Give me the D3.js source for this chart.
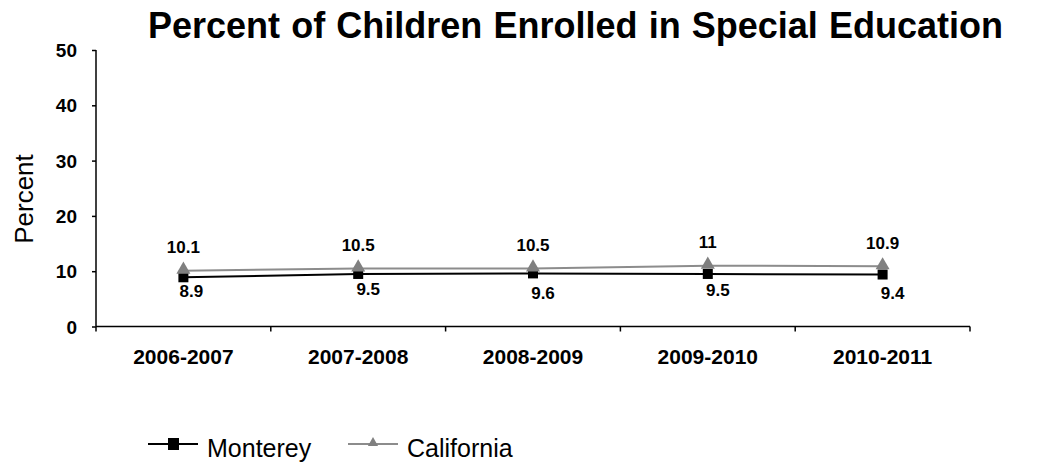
<!DOCTYPE html>
<html>
<head>
<meta charset="utf-8">
<script src="https://cdn.jsdelivr.net/npm/d3@7"></script>
<style>
  html, body { margin: 0; padding: 0; background: #fff; }
  svg { display: block; font-family: "Liberation Sans", Arial, sans-serif; }
</style>
</head>
<body>
<svg id="chart" width="1039" height="465"></svg>
<script>
// School years on the x axis
const years = ["2006-2007", "2007-2008", "2008-2009", "2009-2010", "2010-2011"];
// Percent of children enrolled in special education
const monterey = [8.9, 9.5, 9.6, 9.5, 9.4];
const california = [10.1, 10.5, 10.5, 11, 10.9];
// Y axis ticks
const yTicks = [0, 10, 20, 30, 40, 50];

const svg = d3.select("#chart");
const plotLeft = 96, plotRight = 970, plotTop = 50, plotBottom = 326.5;

const x = d3.scaleBand().domain(years).range([plotLeft, plotRight]);
const y = d3.scaleLinear().domain([0, 50]).range([plotBottom, plotTop]);
const cx = d => x(d) + x.bandwidth() / 2;

// Title, fitted to its span by tightening the word gaps
const title = svg.append("text")
  .attr("x", 575.5).attr("y", 38)
  .attr("text-anchor", "middle")
  .attr("font-size", 36).attr("font-weight", "bold")
  .text("Percent of Children Enrolled in Special Education");
{
  const w = title.node().getComputedTextLength();
  const gaps = 6;
  title.attr("word-spacing", Math.max(-8, Math.min(2, (855 - w) / gaps)));
}

// Y axis
const yAxis = svg.append("g")
  .attr("transform", `translate(${plotLeft},0)`)
  .call(d3.axisLeft(y).tickValues(yTicks).tickSize(4).tickPadding(15));
yAxis.selectAll("text").attr("font-size", 19).attr("font-weight", "bold")
  .attr("font-family", "Liberation Sans, Arial, sans-serif").attr("fill", "#000")
  .attr("dy", "0.35em");
yAxis.selectAll("line, path").attr("stroke", "#000").attr("stroke-width", 1.5);
yAxis.select("path").attr("d", `M0,${plotTop}V${plotBottom}`);

// X axis with ticks at band boundaries
const xAxis = svg.append("g")
  .attr("transform", `translate(0,${plotBottom})`);
xAxis.append("path")
  .attr("d", `M${plotLeft},0H${plotRight}`)
  .attr("stroke", "#000").attr("stroke-width", 1.5);
const bounds = years.map(d => x(d)).concat([plotRight]);
xAxis.selectAll("line.tick").data(bounds).enter().append("line")
  .attr("x1", d => d).attr("x2", d => d)
  .attr("y1", 0).attr("y2", 5)
  .attr("stroke", "#000").attr("stroke-width", 1.5);
xAxis.selectAll("text").data(years).enter().append("text")
  .attr("x", d => cx(d)).attr("y", 37.5)
  .attr("text-anchor", "middle")
  .attr("font-size", 21).attr("font-weight", "bold")
  .text(d => d);

// Y axis title
svg.append("text")
  .attr("transform", "translate(33,199) rotate(-90)")
  .attr("text-anchor", "middle")
  .attr("font-size", 26)
  .text("Percent");

const line = d3.line().x((d, i) => cx(years[i])).y(d => y(d));

// California series (gray, triangles)
svg.append("path").datum(california)
  .attr("d", line).attr("fill", "none")
  .attr("stroke", "#8c8c8c").attr("stroke-width", 2);

// Monterey series (black, squares)
svg.append("path").datum(monterey)
  .attr("d", line).attr("fill", "none")
  .attr("stroke", "#000").attr("stroke-width", 2);

svg.selectAll("rect.mont").data(monterey).enter().append("rect")
  .attr("x", (d, i) => cx(years[i]) - 5)
  .attr("y", d => y(d) - 5)
  .attr("width", 10).attr("height", 10)
  .attr("fill", "#000");

const tri = d3.symbol().type(d3.symbolTriangle).size(85);
svg.selectAll("path.cal").data(california).enter().append("path")
  .attr("d", tri)
  .attr("transform", (d, i) => `translate(${cx(years[i])},${y(d) - 1})`)
  .attr("fill", "#808080");

// Value labels (California above its points, Monterey below and nudged right)
svg.selectAll("text.cal").data(california).enter().append("text")
  .attr("x", (d, i) => cx(years[i]))
  .attr("y", d => y(d) - 17.5)
  .attr("text-anchor", "middle")
  .attr("font-size", 17).attr("font-weight", "bold")
  .text(d => d);

const montLabelDrop = [20, 21, 26, 22, 24];
svg.selectAll("text.mont").data(monterey).enter().append("text")
  .attr("x", (d, i) => cx(years[i]) + (i === 0 ? 8 : 10))
  .attr("y", (d, i) => y(d) + montLabelDrop[i])
  .attr("text-anchor", "middle")
  .attr("font-size", 17).attr("font-weight", "bold")
  .text(d => d);

// Legend
const legend = [
  { name: "Monterey", color: "#000", x: 148 },
  { name: "California", color: "#8c8c8c", x: 348 }
];
const lg = svg.append("g");
legend.forEach((s, i) => {
  const ly = 444;
  lg.append("line")
    .attr("x1", s.x).attr("x2", s.x + 50)
    .attr("y1", ly).attr("y2", ly)
    .attr("stroke", s.color).attr("stroke-width", 2);
  if (i === 0) {
    lg.append("rect").attr("x", s.x + 20).attr("y", ly - 6)
      .attr("width", 11).attr("height", 12).attr("fill", "#000");
  } else {
    lg.append("path").attr("d", d3.symbol().type(d3.symbolTriangle).size(45))
      .attr("transform", `translate(${s.x + 25},${ly - 1})`)
      .attr("fill", "#808080");
  }
  lg.append("text")
    .attr("x", s.x + 59).attr("y", ly + 13)
    .attr("font-size", 25)
    .text(s.name);
});
</script>
</body>
</html>
